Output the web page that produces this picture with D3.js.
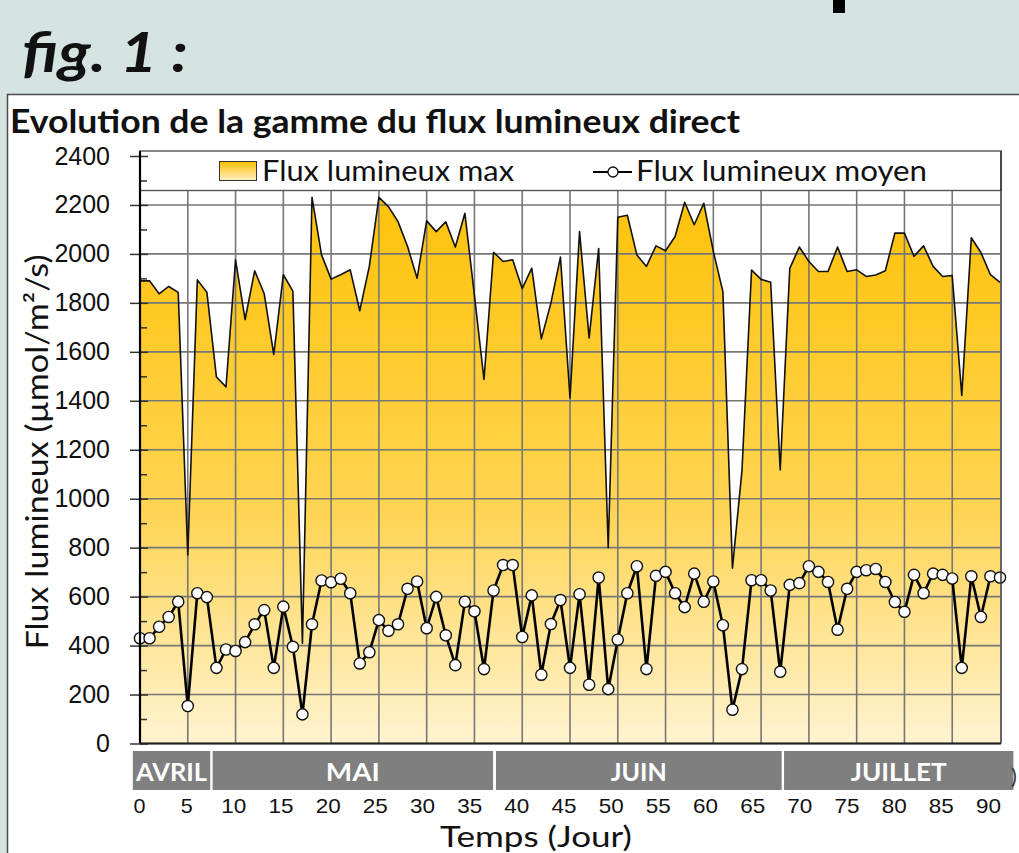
<!DOCTYPE html>
<html>
<head>
<meta charset="utf-8">
<script src="https://cdn.jsdelivr.net/npm/d3@7"></script>
<style>
  body { margin: 0; background: #d5e4e3; }
  svg { display: block; font-family: Lato, "Open Sans", sans-serif; }
</style>
</head>
<body>
<svg id="fig" width="1019" height="853"></svg>
<script>
// valeurs (jour 0 a 90)
var fluxMax = [1890, 1890, 1837, 1867, 1843, 770, 1894, 1843, 1497, 1457,
               1976, 1732, 1931, 1837, 1589, 1915, 1848, 410, 2231, 1996,
               1897, 1915, 1935, 1768, 1949, 2231, 2193, 2132, 2030, 1901,
               2135, 2091, 2131, 2028, 2166, 1830, 1487, 2007, 1969, 1976,
               1858, 1942, 1653, 1799, 1987, 1412, 2091, 1657, 2022, 800,
               2150, 2158, 1996, 1949, 2033, 2013, 2071, 2211, 2119, 2207,
               2010, 1846, 716, 1117, 1934, 1896, 1884, 1117, 1941, 2028,
               1969, 1928, 1928, 2028, 1928, 1935, 1908, 1914, 1931, 2085,
               2085, 1990, 2033, 1949, 1908, 1912, 1422, 2066, 2006, 1915,
               1884];
var fluxMoyen = [430, 430, 477, 517, 579, 153, 614, 598, 309, 384,
                 378, 414, 487, 545, 309, 559, 395, 119, 487, 666,
                 659, 673, 614, 327, 373, 504, 460, 487, 632, 662,
                 471, 599, 442, 320, 579, 540, 304, 625, 729, 729,
                 435, 605, 281, 488, 586, 309, 610, 240, 678, 222,
                 424, 614, 724, 304, 685, 701, 614, 557, 694, 579,
                 662, 483, 138, 304, 667, 667, 625, 293, 648, 655,
                 724, 701, 660, 465, 632, 701, 708, 713, 660, 578,
                 538, 689, 614, 694, 689, 674, 309, 683, 517, 683,
                 678];
var moisNoms  = ["AVRIL", "MAI", "JUIN", "JUILLET"];
var moisDebut = [-0.75, 7.6, 37.25, 67.4];
var moisFin   = [7.35, 36.95, 67.15, 91.4];
var moisLarg  = [71, 54, 56, 96];   // largeur du texte dans le bandeau
var yTicks = [0, 200, 400, 600, 800, 1000, 1200, 1400, 1600, 1800, 2000, 2200, 2400];
var yMinor = [100, 300, 500, 700, 900, 1100, 1300, 1500, 1700, 1900, 2100, 2300];
var xTicks = [0, 5, 10, 15, 20, 25, 30, 35, 40, 45, 50, 55, 60, 65, 70, 75, 80, 85, 90];
var xGrid  = [5, 10, 15, 20, 25, 30, 35, 40, 45, 50, 55, 60, 65, 70, 75, 80, 85];
var yGrid  = [0, 200, 400, 600, 800, 1000, 1200, 1400, 1600, 1800, 2000, 2200];

var svg = d3.select("#fig");
var plot = {left: 140, right: 1000, top: 156, bottom: 743.5, frameTop: 151, legendBottom: 190.5};

var x = d3.scaleLinear().domain([0, 90]).range([plot.left, plot.right]);
var y = d3.scaleLinear().domain([0, 2400]).range([plot.bottom, plot.top]);
// les etiquettes du bas sont un peu plus serrees que la grille
var xLab = d3.scaleLinear().domain([0, 90]).range([139, 988]);

// fond + morceau du titre de la diapo
svg.append("rect").attr("x", 833).attr("y", 0).attr("width", 12).attr("height", 13).attr("fill", "#000");
svg.append("text").attr("x", 22).attr("y", 72)
    .attr("font-size", 56).attr("font-weight", "bold").attr("font-style", "italic")
    .attr("fill", "#111").attr("textLength", 166).attr("lengthAdjust", "spacingAndGlyphs")
    .text("fig. 1 :");

// panneau blanc
svg.append("rect").attr("x", 7.5).attr("y", 94.5).attr("width", 1030).attr("height", 800)
    .attr("fill", "#fff").attr("stroke", "#4a4a4a").attr("stroke-width", 1.5);

svg.append("text").attr("x", 10).attr("y", 133)
    .attr("font-size", 33).attr("font-weight", "bold").attr("fill", "#111")
    .attr("textLength", 730).attr("lengthAdjust", "spacingAndGlyphs")
    .text("Evolution de la gamme du flux lumineux direct");

var defs = svg.append("defs");
var grad = defs.append("linearGradient").attr("id", "gradMax")
    .attr("gradientUnits", "userSpaceOnUse")
    .attr("x1", 0).attr("x2", 0).attr("y1", plot.top).attr("y2", plot.bottom);
grad.append("stop").attr("offset", "0").attr("stop-color", "#ffc000");
grad.append("stop").attr("offset", "0.6").attr("stop-color", "#ffd452");
grad.append("stop").attr("offset", "1").attr("stop-color", "#fff3d0");
var gradLeg = defs.append("linearGradient").attr("id", "gradLeg")
    .attr("x1", 0).attr("x2", 0).attr("y1", 0).attr("y2", 1);
gradLeg.append("stop").attr("offset", "0").attr("stop-color", "#ffc000");
gradLeg.append("stop").attr("offset", "1").attr("stop-color", "#fff0c4");

// aire du flux max
var area = d3.area()
    .x(function(d, i) { return x(i); })
    .y0(y(0))
    .y1(function(d) { return y(d); });
svg.append("path").datum(fluxMax).attr("d", area).attr("fill", "url(#gradMax)");

// grille
svg.append("g").selectAll("line").data(yGrid).enter().append("line")
    .attr("x1", plot.left).attr("x2", plot.right)
    .attr("y1", function(d) { return y(d); }).attr("y2", function(d) { return y(d); })
    .attr("stroke", "#767676").attr("stroke-width", 1.6);
svg.append("g").selectAll("line").data(xGrid).enter().append("line")
    .attr("x1", function(d) { return x(d); }).attr("x2", function(d) { return x(d); })
    .attr("y1", plot.legendBottom).attr("y2", plot.bottom)
    .attr("stroke", "#767676").attr("stroke-width", 1.6);

var ligne = d3.line()
    .x(function(d, i) { return x(i); })
    .y(function(d) { return y(d); });
svg.append("path").datum(fluxMax).attr("d", ligne)
    .attr("fill", "none").attr("stroke", "#111").attr("stroke-width", 1.6)
    .attr("stroke-linejoin", "round");

svg.append("path").datum(fluxMoyen).attr("d", ligne)
    .attr("fill", "none").attr("stroke", "#000").attr("stroke-width", 2.6)
    .attr("stroke-linejoin", "round");
svg.append("g").selectAll("circle").data(fluxMoyen).enter().append("circle")
    .attr("cx", function(d, i) { return x(i); })
    .attr("cy", function(d) { return y(d); })
    .attr("r", 5.6).attr("fill", "#fff").attr("stroke", "#111").attr("stroke-width", 1.4);

// legende
svg.append("rect").attr("x", plot.left).attr("y", plot.frameTop)
    .attr("width", plot.right - plot.left + 1).attr("height", plot.legendBottom - plot.frameTop)
    .attr("fill", "#fff").attr("stroke", "#555").attr("stroke-width", 1.4);
svg.append("rect").attr("x", 219.5).attr("y", 161.5).attr("width", 37).attr("height", 19)
    .attr("fill", "url(#gradLeg)").attr("stroke", "#333").attr("stroke-width", 1);
svg.append("text").attr("x", 262).attr("y", 181).attr("font-size", 28).attr("fill", "#111")
    .attr("textLength", 252).attr("lengthAdjust", "spacingAndGlyphs")
    .text("Flux lumineux max");
svg.append("line").attr("x1", 593).attr("x2", 632).attr("y1", 172).attr("y2", 172)
    .attr("stroke", "#000").attr("stroke-width", 2);
svg.append("circle").attr("cx", 613).attr("cy", 172).attr("r", 5)
    .attr("fill", "#fff").attr("stroke", "#111").attr("stroke-width", 1.3);
svg.append("text").attr("x", 636).attr("y", 181).attr("font-size", 28).attr("fill", "#111")
    .attr("textLength", 291).attr("lengthAdjust", "spacingAndGlyphs")
    .text("Flux lumineux moyen");

// cadre droit + axes
svg.append("line").attr("x1", plot.right + 1).attr("x2", plot.right + 1)
    .attr("y1", plot.frameTop).attr("y2", plot.bottom)
    .attr("stroke", "#333").attr("stroke-width", 1.5);

var axeY = svg.append("g").attr("transform", "translate(148,0)")
    .call(d3.axisLeft(y).tickValues(yTicks).tickSize(18).tickPadding(20).tickFormat(d3.format("d")));
axeY.select(".domain").remove();
axeY.selectAll("line").attr("stroke", "#333").attr("stroke-width", 1.5);
axeY.selectAll("text").attr("font-size", 25).attr("fill", "#111").attr("font-family", null);

var axeYmin = svg.append("g").attr("transform", "translate(" + plot.left + ",0)")
    .call(d3.axisRight(y).tickValues(yMinor).tickSize(7).tickFormat(""));
axeYmin.select(".domain").remove();
axeYmin.selectAll("line").attr("stroke", "#333").attr("stroke-width", 1.5);

svg.append("line").attr("x1", plot.left).attr("x2", plot.left)
    .attr("y1", plot.frameTop).attr("y2", plot.bottom)
    .attr("stroke", "#000").attr("stroke-width", 2.2);
svg.append("line").attr("x1", plot.left).attr("x2", plot.right + 1)
    .attr("y1", plot.bottom).attr("y2", plot.bottom)
    .attr("stroke", "#222").attr("stroke-width", 2);

// bandeau des mois
var mois = svg.append("g").selectAll("g").data(moisNoms).enter().append("g");
mois.append("rect")
    .attr("x", function(d, i) { return x(moisDebut[i]); })
    .attr("width", function(d, i) { return x(moisFin[i]) - x(moisDebut[i]); })
    .attr("y", 751).attr("height", 39).attr("fill", "#7f7f7f");
mois.append("text")
    .attr("x", function(d, i) { return (x(moisDebut[i]) + x(moisFin[i])) / 2; })
    .attr("y", 781).attr("text-anchor", "middle")
    .attr("font-size", 25).attr("font-weight", "bold").attr("fill", "#fff")
    .attr("textLength", function(d, i) { return moisLarg[i]; })
    .attr("lengthAdjust", "spacingAndGlyphs")
    .text(function(d) { return d; });
svg.append("text").attr("x", 1011).attr("y", 784).attr("font-size", 22).attr("fill", "#333").text(")");

var axeX = svg.append("g").attr("transform", "translate(0,813)")
    .call(d3.axisBottom(xLab).tickValues(xTicks).tickSize(0).tickPadding(0));
axeX.select(".domain").remove();
axeX.selectAll("text").attr("y", 0).attr("dy", null)
    .attr("font-size", 21).attr("fill", "#111").attr("font-family", null)
    .attr("textLength", function(d) { return d < 10 ? 12 : 25; })
    .attr("lengthAdjust", "spacingAndGlyphs");

svg.append("text").attr("x", 536).attr("y", 847).attr("text-anchor", "middle")
    .attr("font-size", 28).attr("fill", "#111")
    .attr("textLength", 192).attr("lengthAdjust", "spacingAndGlyphs")
    .text("Temps (Jour)");
svg.append("text").attr("transform", "translate(48,452) rotate(-90)")
    .attr("text-anchor", "middle").attr("font-size", 31).attr("fill", "#111")
    .attr("textLength", 395).attr("lengthAdjust", "spacingAndGlyphs")
    .text("Flux lumineux (\u00b5mol/m\u00b2/s)");
</script>
</body>
</html>
